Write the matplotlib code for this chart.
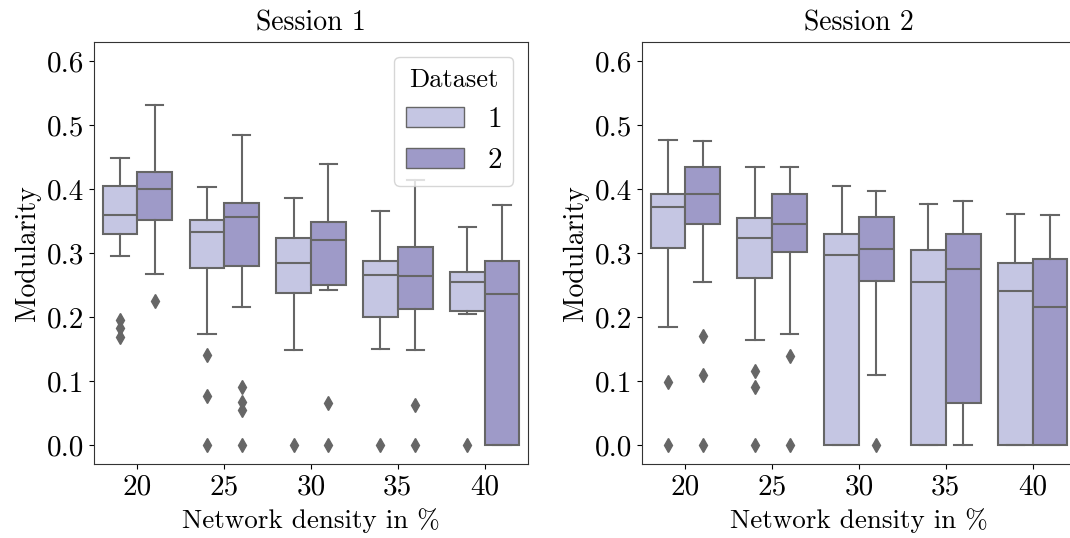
import matplotlib
matplotlib.use("Agg")
import matplotlib.pyplot as plt
from matplotlib.patches import Patch

plt.rcParams['font.family'] = ['cmr10', 'DejaVu Serif']
plt.rcParams['mathtext.fontset'] = 'cm'
plt.rcParams['axes.formatter.use_mathtext'] = True

densities = ["20", "25", "30", "35", "40"]
yticks = [0.0, 0.1, 0.2, 0.3, 0.4, 0.5, 0.6]

# Session 1 box stats, dataset 1 / dataset 2
s1_d1_lo = [0.296, 0.173, 0.149, 0.150, 0.204]
s1_d1_q1 = [0.329, 0.277, 0.238, 0.200, 0.210]
s1_d1_med = [0.360, 0.333, 0.285, 0.266, 0.254]
s1_d1_q3 = [0.405, 0.351, 0.323, 0.288, 0.271]
s1_d1_hi = [0.448, 0.404, 0.386, 0.365, 0.340]
s1_d1_fl = [[0.195, 0.182, 0.169], [0.141, 0.077, 0.0], [0.0], [0.0], [0.0]]

s1_d2_lo = [0.267, 0.215, 0.242, 0.149, 0.0]
s1_d2_q1 = [0.352, 0.280, 0.250, 0.212, 0.0]
s1_d2_med = [0.400, 0.356, 0.320, 0.264, 0.236]
s1_d2_q3 = [0.426, 0.378, 0.348, 0.309, 0.288]
s1_d2_hi = [0.531, 0.484, 0.440, 0.414, 0.375]
s1_d2_fl = [[0.225], [0.090, 0.067, 0.055, 0.0], [0.065, 0.0], [0.063, 0.0], []]

# Session 2
s2_d1_lo = [0.185, 0.164, 0.0, 0.0, 0.0]
s2_d1_q1 = [0.308, 0.261, 0.0, 0.0, 0.0]
s2_d1_med = [0.372, 0.324, 0.297, 0.254, 0.240]
s2_d1_q3 = [0.392, 0.354, 0.329, 0.305, 0.284]
s2_d1_hi = [0.477, 0.434, 0.405, 0.376, 0.361]
s2_d1_fl = [[0.099, 0.0], [0.116, 0.091, 0.0], [], [], []]

s2_d2_lo = [0.255, 0.173, 0.109, 0.0, 0.0]
s2_d2_q1 = [0.345, 0.301, 0.256, 0.066, 0.0]
s2_d2_med = [0.392, 0.345, 0.306, 0.275, 0.215]
s2_d2_q3 = [0.435, 0.392, 0.356, 0.329, 0.290]
s2_d2_hi = [0.475, 0.434, 0.397, 0.382, 0.360]
s2_d2_fl = [[0.170, 0.109, 0.0], [0.139, 0.0], [0.0], [], []]

colors = ["#c5c6e3", "#9e9ac8"]
line_c = "#666666"
FS = 21


def make_stats(lo, q1, med, q3, hi, fl):
    return [dict(whislo=lo[i], q1=q1[i], med=med[i], q3=q3[i], whishi=hi[i], fliers=fl[i])
            for i in range(len(med))]


def draw(ax, groups, title):
    for j, (st, col) in enumerate(zip(groups, colors)):
        pos = [i - 0.2 + 0.4 * j for i in range(len(densities))]
        lp = dict(color=line_c, linewidth=1.5)
        ax.bxp(st, positions=pos, widths=0.4, patch_artist=True, manage_ticks=False,
               boxprops=dict(facecolor=col, edgecolor=line_c, linewidth=1.5),
               medianprops=lp, whiskerprops=lp, capprops=lp,
               flierprops=dict(marker='d', markersize=7.5, markerfacecolor=line_c,
                               markeredgecolor=line_c, linestyle='none'))
    ax.set_xlim(-0.5, 4.5)
    ax.set_ylim(-0.03, 0.63)
    ax.set_xticks(range(len(densities)))
    ax.set_xticklabels(densities)
    ax.set_yticks(yticks)
    ax.set_yticklabels([f"{v:.1f}" for v in yticks])
    ax.tick_params(labelsize=FS)
    ax.set_xlabel("Network density in %", fontsize=19.5, labelpad=6)
    ax.set_ylabel("Modularity", fontsize=20)
    ax.set_title(title, fontsize=20, pad=8)
    for s in ax.spines.values():
        s.set_color("#333333")


fig = plt.figure(figsize=(10.7, 5.38), dpi=100)
ax1 = fig.add_axes([0.0879, 0.1375, 0.4056, 0.7844])
ax2 = fig.add_axes([0.6, 0.1375, 0.4056, 0.7844])

draw(ax1, [make_stats(s1_d1_lo, s1_d1_q1, s1_d1_med, s1_d1_q3, s1_d1_hi, s1_d1_fl),
           make_stats(s1_d2_lo, s1_d2_q1, s1_d2_med, s1_d2_q3, s1_d2_hi, s1_d2_fl)], "Session 1")
draw(ax2, [make_stats(s2_d1_lo, s2_d1_q1, s2_d1_med, s2_d1_q3, s2_d1_hi, s2_d1_fl),
           make_stats(s2_d2_lo, s2_d2_q1, s2_d2_med, s2_d2_q3, s2_d2_hi, s2_d2_fl)], "Session 2")

handles = [Patch(facecolor=c, edgecolor=line_c, linewidth=1.0) for c in colors]
ax1.legend(handles, ["1", "2"], title="Dataset", loc="upper right", fontsize=FS,
           title_fontsize=19)

fig.savefig("out.png", dpi=100)
